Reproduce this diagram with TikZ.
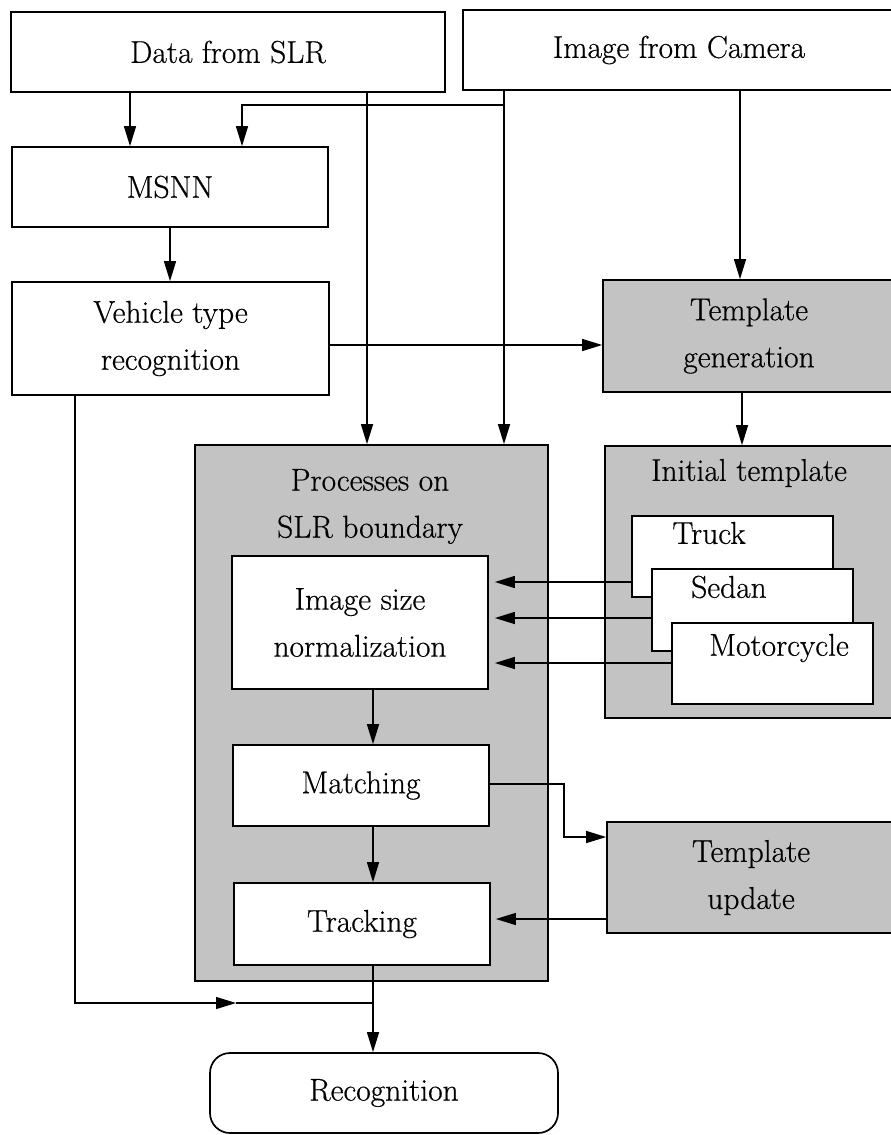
\documentclass[tikz,border=0pt]{standalone}
\usepackage{fontspec}
\setmainfont{Latin Modern Roman}[FakeBold=0.5]
\usetikzlibrary{arrows.meta,calc}
\definecolor{screen}{RGB}{195,195,195}
\tikzset{
  base/.style={draw=black, line width=1.7pt, inner sep=0pt, align=center,
    font=\fontsize{31.5}{47}\selectfont},
  box/.style={base, fill=white},
  shaded/.style={base, fill=screen},
  wh/.style 2 args={minimum width=#1pt, minimum height=#2pt},
  lbl/.style={inner sep=0pt, align=center, font=\fontsize{31.5}{47}\selectfont},
  arr/.style={line width=1.3pt, -{Triangle[length=20pt,width=12pt]}},
  wire/.style={line width=1.3pt},
}
\begin{document}
\begin{tikzpicture}[x=1pt,y=-1pt]
\fill[white] (0,0) rectangle (891,1135);
\useasboundingbox (0,0) rectangle (891,1135);

% sources
\node[box, wh={434}{80}] (data) at (228,52) {Data from SLR};
\node[box, wh={432}{80}] (cam) at (679,50) {Image from Camera};

% left column
\node[box, wh={316}{80}] (msnn) at (170,187) {MSNN};
\node[box, wh={317}{113}] (veh) at (170.5,338.5) {Vehicle type\\recognition};

% template generation
\node[shaded, wh={292}{112}] (tgen) at (749,336) {Template\\generation};

% processes on the SLR boundary
\node[shaded, wh={353}{536}] (proc) at (371.5,713) {};
\node[lbl] (proct) at (370,506.5) {Processes on\\SLR boundary};

% initial templates
\node[shaded, wh={290}{272}] (init) at (750,582) {};
\node[lbl] (initt) at (749,473) {Initial template};
\node[box, wh={201}{81}] (truck) at (732.5,556.5) {};
\node[lbl] (truckt) at (709,533) {Truck};
\node[box, wh={201}{82}] (sedan) at (752.5,610) {};
\node[lbl] (sedant) at (729,587) {Sedan};
\node[box, wh={201}{81}] (moto) at (772.5,663.5) {};
\node[lbl] (motot) at (779,648) {Motorcycle};

% inner process steps
\node[box, wh={256}{133}] (norm) at (360,622.5) {Image size\\normalization};
\node[box, wh={256}{81}] (match) at (361,785.5) {Matching};
\node[box, wh={256}{82}] (track) at (362,924) {Tracking};

% template update
\node[shaded, wh={288}{111}] (tupd) at (751,877.5) {Template\\update};

% result
\node[box, wh={348}{80}, rounded corners=20pt] (recog) at (384,1093) {Recognition};

% connector lanes
\coordinate (xa) at (130,0);
\coordinate (xb) at (242,0);
\coordinate (xc) at (367,0);
\coordinate (xd) at (504,0);
\coordinate (xe) at (740,0);
\coordinate (xt) at (742,0);
\coordinate (xf) at (373,0);
\coordinate (xg) at (75,0);
\coordinate (xh) at (564,0);
\coordinate (ya) at (0,105);
\coordinate (yb) at (0,345);
\coordinate (y1) at (0,582);
\coordinate (y2) at (0,618);
\coordinate (y3) at (0,663);
\coordinate (ym) at (0,784);
\coordinate (yn) at (0,837);
\coordinate (yu) at (0,919);
\coordinate (midtip) at (236,1003);
\coordinate (join) at (373,1003);

% connectors
\draw[arr] (data.south -| xa) -- (msnn.north -| xa);
\draw[arr] (data.south -| xc) -- (proc.north -| xc);
\draw[arr] (cam.south -| xd) -- (proc.north -| xd);
\draw[arr] (cam.south -| xd) -- (xd |- ya) -- (xb |- ya) -- (msnn.north -| xb);
\draw[arr] (cam.south -| xe) -- (tgen.north -| xe);
\draw[arr] (msnn.south) -- (msnn.south |- veh.north);
\draw[arr] (veh.east |- yb) -- (tgen.west |- yb);
\draw[arr] (tgen.south -| xt) -- (init.north -| xt);
\draw[arr, shorten >=6pt] (truck.west |- y1) -- (norm.east |- y1);
\draw[arr, shorten >=6pt] (sedan.west |- y2) -- (norm.east |- y2);
\draw[arr, shorten >=6pt] (moto.west |- y3) -- (norm.east |- y3);
\draw[arr] (norm.south -| xf) -- (match.north -| xf);
\draw[arr] (match.south -| xf) -- (track.north -| xf);
\draw[arr] (match.east |- ym) -- (xh |- ym) -- (xh |- yn) -- (tupd.west |- yn);
\draw[arr, shorten >=5pt] (tupd.west |- yu) -- (track.east |- yu);
\draw[arr] (track.south -| xf) -- (recog.north -| xf);
\draw[arr] (veh.south -| xg) |- (midtip);
\draw[wire] (midtip) -- (join);
\end{tikzpicture}
\end{document}
